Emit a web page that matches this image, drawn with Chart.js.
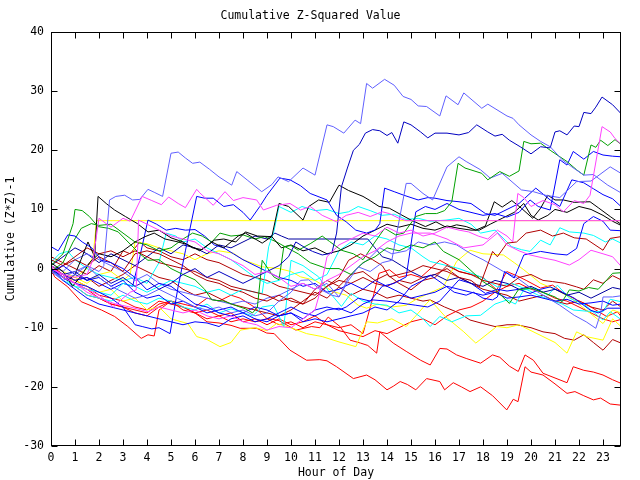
<!DOCTYPE html>
<html lang="en">
<head>
<meta charset="UTF-8">
<title>Cumulative Z-Squared Value</title>
<script src="https://cdn.jsdelivr.net/npm/chart.js"></script>
<style>
    body { margin: 0; background: #fff; }
    #chart { display: block; }
</style>
</head>
<body>
<canvas id="chart" width="640" height="480"></canvas>
<script>
// each series: [hour of day, cumulative (z*z)-1]
const hourRange = [0, 23.75];
const valueRange = [-30, 40];

const lightBlueTop = [[0,-0.5],[0.5,-1.5],[1,-0.5],[1.5,0.5],[2,-0.5],[2.2,0.5],[2.44,11.6],[2.7,12.2],[3.07,12.4],[3.4,11.6],[3.7,11.7],[4.04,13.4],[4.3,12.9],[4.65,12.2],[5,19.5],[5.3,19.7],[5.6,18.7],[5.9,17.8],[6.2,18],[6.6,16.8],[7,15.5],[7.53,14.1],[7.74,16.4],[8.2,14.9],[8.78,13],[9.2,14.2],[9.46,15.5],[9.9,14.7],[10.5,17],[11,15.8],[11.5,24.3],[11.76,24],[12.2,22.9],[12.67,25.1],[12.9,24.5],[13.15,31.3],[13.4,30.5],[13.9,32],[14.3,31],[14.67,29.1],[15,28.6],[15.3,27.5],[15.65,27.4],[16.2,25.8],[16.46,29.2],[16.96,27.7],[17.2,29.7],[17.95,27.1],[18.2,27.8],[19,25.8],[19.25,25.4],[19.5,24.3],[20,22.6],[20.4,21.5],[20.8,20.6],[21.3,18.4],[21.7,17.2],[22.2,15.8],[22.6,15.9],[23.2,14.1],[23.75,12.8]];
const lightBlueMid = [[0,-0.5],[0.5,-2],[1,-1],[1.5,0.5],[2,-1.5],[2.5,-3],[3,-4],[3.5,-5],[4,-4.5],[4.5,-3.5],[5,-4.5],[5.5,-5.5],[6,-6.5],[6.5,-7],[7,-6.5],[7.5,-7.5],[8,-7],[8.5,-8],[9,-7.5],[9.5,-5.5],[10,-4],[10.4,-2],[10.74,-1.9],[11.2,-3.5],[11.7,-4.5],[12,-4.8],[12.4,-2],[12.8,0.3],[13.3,-0.5],[13.8,1],[14.2,1.4],[14.5,8],[14.8,14.4],[15,14.4],[15.5,12.7],[15.9,11.6],[16.5,17.2],[17,18.9],[17.3,18.1],[17.9,16.7],[18.3,15.3],[18.8,16.1],[19.6,13.3],[20.1,13],[20.6,12.4],[21.2,12],[21.9,14.7],[22.5,14.8],[23.3,17.2],[23.75,16.1]];
const lightBlueLow = [[0,0.5],[0.5,-0.5],[1,1.5],[1.5,2.5],[2,1.5],[2.5,0.5],[3,-0.5],[3.5,-2],[4,-1],[4.5,-2.5],[5,-3.5],[5.5,-4],[6,-4.5],[6.5,-5],[7,-5.5],[7.5,-6],[8,-5.5],[8.5,-6],[9,-5],[9.5,-4.5],[10,-3.5],[10.5,-2.5],[11,-3.5],[11.5,-2.5],[12,-4.8],[12.4,-1.5],[12.8,0.3],[13.2,1.5],[13.7,3.5],[14.2,2.5],[14.8,3],[15.3,4.5],[15.8,4],[16.4,4.5],[16.9,4],[17.5,2.5],[18,1.5],[18.85,-0.5],[19.4,-1.5],[19.9,-3],[20.5,-4.5],[21.2,-6.2],[21.8,-7.9],[22.3,-9],[22.7,-10.1],[22.9,-7.6],[23,-4.8],[23.4,-4.8],[23.75,-4.6]];
const navyTop = [[0,0],[0.5,-1],[1,-0.5],[1.5,-2],[2,-1],[2.5,-2.5],[3,-1.5],[3.5,-3],[4,-2],[4.5,-3.5],[5,-2.5],[5.5,-1],[6,0],[6.5,-1.5],[7,-0.5],[7.5,-1.5],[8,-2.5],[8.5,-1.5],[9,-0.5],[9.5,0.5],[9.9,2],[10.2,4.5],[10.6,3.5],[10.9,2.9],[11.3,2.3],[11.7,2.6],[11.9,6],[12.1,13.8],[12.35,17],[12.6,20],[12.85,21],[13.1,22.9],[13.4,23.5],[13.7,23.3],[14,22.5],[14.2,23],[14.45,21.2],[14.7,24.8],[15,24.3],[15.4,23.1],[15.7,22.1],[16,22.9],[16.5,22.9],[17,22.6],[17.4,23],[17.74,24.3],[18.2,23.1],[18.5,22.4],[18.8,22.7],[19.1,21.7],[19.55,20.6],[20,19.4],[20.4,20.6],[20.8,20.4],[21,23.1],[21.2,23.3],[21.5,22.6],[21.8,24.1],[22,24],[22.2,26.4],[22.5,26.2],[22.7,27.3],[22.96,29],[23.4,27.7],[23.75,26.2]];
const navyFlat = [[0,0.5],[0.5,2],[1,3.5],[1.5,2.5],[2,1],[2.5,2.5],[3,1.5],[3.5,0.5],[4,2],[4.5,3.5],[5,2.5],[5.5,4],[6,3.5],[6.5,2.5],[7,4],[7.5,3.5],[8,4.5],[8.5,5.5],[9,5],[9.33,6],[9.6,5.5],[9.9,5],[13.2,5],[13.5,3.5],[13.8,2],[14.2,1.5],[14.6,0.5],[15,-0.5],[15.5,-1.5],[16,-1],[16.5,-2],[17,-1.5],[17.5,-2.5],[18,-3],[18.5,-2],[19,-2.5],[19.5,-3.5],[20,-3],[20.5,-4],[21,-3.5],[21.5,-4.5],[22,-4],[22.5,-5],[23,-4],[23.4,-3.2],[23.75,-3.5]];
const blueA = [[0,3.7],[0.3,3],[0.7,5.7],[1,5.5],[1.3,4.5],[1.7,3.5],[2.1,1.4],[2.5,1],[3,0],[3.5,-1.5],[4,-3.6],[4.5,-2.5],[5,-3],[5.5,-4.5],[6,-6],[6.5,-6.5],[7,-7.5],[7.5,-8],[8,-7.5],[8.5,-8.5],[9,-9],[9.5,-8],[10,-7.5],[10.5,-8.5],[11,-7],[11.5,-6.5],[12,-7],[12.3,-6.5],[12.8,-5],[13.3,-5.5],[13.8,-3],[14.3,-2.5],[14.8,-1.4],[15.2,9.6],[15.6,10.5],[16,10],[16.5,11],[17,10],[17.5,9.5],[18,9],[18.5,9.3],[19,8.7],[19.5,9.5],[19.96,11.6],[20.3,10.5],[20.8,9.9],[21.2,18.4],[21.5,17.5],[21.76,19.8],[22.2,18.5],[22.6,19.8],[23,19.2],[23.4,19],[23.75,18.9]];
const blueB = [[0,0],[0.5,-1.5],[1,-2.5],[1.5,-3],[2,-4],[2.5,-5],[3,-6.5],[3.5,-9.5],[3.8,-9.8],[4.2,-10.2],[4.5,-10],[4.96,-11],[5.3,-3],[5.6,3],[6.07,12.2],[6.4,11.9],[6.76,11.9],[7.2,10.5],[7.6,10.8],[8,9.5],[8.3,8.2],[8.7,10.5],[9,12.4],[9.54,15.3],[9.96,15],[10.4,14],[10.8,12.7],[11.5,11.6],[11.9,9],[12.3,7.9],[12.7,6.5],[13.15,6],[13.5,6.5],[13.7,7.6],[13.9,13.6],[14.3,13],[14.7,12.4],[15.3,11.6],[15.7,12],[16,11.9],[16.5,11.5],[17,11.3],[17.5,11],[18.1,9.3],[18.5,9],[19,10],[19.5,11],[20.2,13.6],[20.8,11.6],[21.2,10.5],[21.7,15],[22.2,14.5],[22.6,13.5],[23,12.5],[23.4,11.8],[23.75,10.5]];
const blueC = [[0,-0.5],[0.5,0.5],[1,-1],[1.5,-2],[2,-1.5],[2.5,-3],[3,-2],[3.5,-4],[4,-5],[4.5,-4.5],[5,-6],[5.5,-5.5],[6,-6.5],[6.5,-7.5],[7,-7],[7.5,-6.5],[8,-7.5],[8.5,-6.5],[9,-7],[9.5,-8],[10,-7.5],[10.5,-9],[11,-8.5],[11.5,-9],[12,-8.5],[12.5,-8],[13,-7.5],[13.5,-6.5],[14,-7],[14.5,-5.5],[15,-3],[15.5,-2],[15.8,-1.1],[16.3,-2.5],[16.8,-4],[17.3,-4.5],[17.6,-4],[18,-5],[18.4,-5.3],[18.6,-4.8],[18.9,-0.5],[19.3,-1.6],[19.7,2.3],[20.4,2.9],[21,2.5],[21.5,2.3],[21.9,3.4],[22.2,7.6],[22.6,8.8],[23,8],[23.3,6.5],[23.75,6.4]];
const blueD = [[0,0],[0.5,-2],[1,-3.5],[1.5,-5],[2,-6],[2.5,-6.5],[3,-7],[3.5,-7.5],[4,-8],[4.5,-8.5],[5,-9],[5.5,-9.5],[6,-9],[6.5,-9.2],[7,-9.8],[7.5,-8.5],[8,-8],[8.5,-9],[9,-8.5],[9.5,-7.5],[10,-6.5],[10.5,-7.5],[11,-8],[11.5,-7],[12,-6.7],[12.5,-7.5],[13,-6],[13.4,-5.3],[14,-5.5],[14.5,-5.8],[15.2,-6.2],[15.7,-6.5],[16.2,-5.5],[17,-1.9],[17.5,-2.5],[18.1,-4.2],[18.6,-3.5],[19,-3.8],[19.5,-3.5],[19.96,-4.2],[20.4,-3.5],[20.8,-3.1],[21.3,-4],[21.8,-5],[22.46,-7],[22.8,-7.5],[23.2,-6.7],[23.75,-6.7]];
const blueE = [[0,0],[0.5,-1],[1,-2],[1.5,-1.5],[2,-2.5],[2.5,-3.5],[3,-2.5],[3.4,-3],[3.7,2],[4.04,8.2],[4.4,7.5],[4.8,6.5],[5.2,6.8],[5.6,6.5],[6,6.6],[6.4,5.5],[6.8,4],[7.2,3.5],[7.6,2.5],[8,1.5],[8.5,0.5],[9,-0.5],[9.5,-1.5],[10,-2],[10.5,-3],[11,-2.5],[11.5,-4],[12,-3.5],[12.5,-2.5],[13,-3.5],[13.5,-2],[14,-3],[14.5,-4],[15,-5],[15.5,-4.5],[16,-4],[16.5,-3],[17,-3.5],[17.5,-4],[18,-4.5],[18.5,-4],[19,-5],[19.5,-4.8],[20,-4.5],[20.5,-5],[21,-5.5],[21.5,-5.2],[22,-6],[22.5,-5.8],[23,-5.5],[23.4,-6.2],[23.75,-6]];
const greenHigh = [[0,0.5],[0.5,2.5],[0.92,7.6],[1,10],[1.3,9.8],[1.6,8.8],[1.96,7.1],[2.4,6.8],[2.8,6.2],[3.33,4],[3.7,2.5],[4.04,1.4],[4.5,1.5],[5,0],[5.5,-1],[6,-1.9],[6.4,-3.5],[6.7,-5.3],[7.2,-5.5],[7.8,-6.4],[8.1,-6.8],[8.4,-7.5],[8.6,-6.5],[8.8,1.4],[9.28,-1.4],[9.5,-1.9],[9.7,3.7],[10,3.9],[10.3,3.1],[10.8,4.2],[11.3,5.5],[11.6,4.6],[12.1,3.1],[12.6,2.5],[13,1.5],[13.5,4.5],[13.9,6.8],[14.36,5.7],[14.7,6],[15.2,8.8],[15.6,9.3],[16.07,9.3],[16.4,9.8],[16.7,11.3],[16.96,17.8],[17.25,17],[17.95,16.1],[18.2,15],[18.7,16.4],[19.1,15.6],[19.5,16.5],[19.7,21.5],[20,21.1],[20.4,21.2],[20.8,20],[21.5,18.1],[21.9,16.7],[22.2,15.8],[22.5,20.9],[22.7,20.5],[22.9,21.7],[23.2,20.8],[23.5,21.8],[23.75,21]];
const greenLow = [[0,-0.5],[0.5,1],[0.92,4.5],[1.26,6.8],[1.68,7.6],[2,7.3],[2.5,7.5],[3,6],[3.5,4.5],[4,4],[4.5,3],[5,3.5],[5.5,5],[5.9,6],[6.3,5.5],[6.7,4.5],[7.04,6],[7.5,5.5],[8,5.7],[8.5,5],[8.9,5.4],[9.4,4.5],[9.75,3.7],[10.3,2.5],[10.8,1],[11.5,0],[12,0],[12.5,-1],[13,1],[13.5,2],[14,3.5],[14.5,3],[15,4],[15.5,3.5],[16,4.5],[16.35,2.9],[17,1.5],[17.46,-0.2],[18,-2.2],[18.5,-3.5],[19.1,-5.9],[19.47,-3.6],[20,-3.3],[20.4,-3.9],[21,-4.8],[21.3,-5.6],[21.6,-3.6],[22,-3.8],[22.4,-3.2],[22.8,-3.5],[23.1,-2.2],[23.4,-0.8],[23.75,-0.7]];
const blackA = [[0,0],[0.35,-1],[0.7,-2],[1,-1],[1.25,1.5],[1.54,4.5],[1.82,2],[1.96,12.2],[2.3,11],[2.65,9.9],[3.1,8.8],[3.6,7.6],[4.04,6.2],[4.5,6.5],[5,5.2],[5.5,4.5],[5.9,3.5],[6.3,3.2],[6.8,4.8],[7.2,5],[7.7,4.5],[8.1,6.2],[8.6,5.5],[9.2,5.4],[9.5,11],[9.9,10.5],[10.5,8.2],[10.74,10.5],[11.15,11.6],[11.6,11.2],[12,14.1],[12.4,13.2],[13,12.2],[13.25,11.6],[13.67,10.5],[14.1,10.2],[14.5,9.3],[15,8.2],[15.6,7.1],[16.04,7.9],[16.5,6.9],[16.9,7.4],[17.3,7.1],[17.7,6.5],[18.1,7.2],[18.47,11.3],[18.8,10.4],[19.2,11.5],[19.6,10.2],[20.07,8.5],[20.4,10.2],[20.7,12.4],[21,11.6],[21.35,11.6],[21.8,11.2],[22.46,11.3],[22.8,10.3],[23.3,8.8],[23.75,7.5]];
const blackB = [[0,1],[0.5,-0.5],[0.9,-3],[1.3,-1],[1.6,1],[2,2.5],[2.5,2],[3,3],[3.5,4.5],[3.92,5.4],[4.3,6],[4.75,5],[5.3,4.5],[5.72,4],[6.2,3],[6.7,4.5],[7.2,3.5],[7.8,5.5],[8.1,6],[8.8,4.3],[9.2,5.4],[9.6,3.5],[10,4],[10.5,3],[11,3.5],[11.5,2.5],[12,3],[12.5,4],[13,5.5],[13.5,6.5],[14,7.5],[14.5,7],[15,7.5],[15.5,6.8],[16,6.5],[16.5,7.2],[17,6.8],[17.5,6.5],[17.85,6.5],[18.3,7.5],[18.8,8.5],[19.3,9.5],[19.7,11],[20,9],[20.3,8.2],[20.7,9],[21,10],[21.5,9.5],[22,10.5],[22.5,10],[23,9],[23.4,8],[23.75,7.3]];
const magentaFlat = [[0,0],[0.5,-1],[1,-1.5],[1.5,-1],[1.75,1.5],[2,8.5],[2.5,7],[3,8.5],[3.3,8],[3.8,12.2],[4.2,11.5],[4.6,10.8],[4.9,12.1],[5.3,11],[5.6,10.3],[6.07,13.4],[6.2,12.8],[6.76,10.7],[7.25,13],[7.6,11.5],[8,12],[8.57,11.6],[8.85,9.9],[9.4,10.7],[9.96,11],[10.4,9.9],[10.8,10.5],[11.3,9],[11.9,7.9],[12.3,9],[12.8,9.5],[13.3,8.8],[13.8,9.6],[14.1,9.3],[14.5,8.5],[14.8,8.1],[23.75,8.1]];
const magentaRise = [[0,0],[0.5,-1],[1,-2.5],[1.5,-4],[2.2,-5.3],[2.7,-6],[3.3,-6.5],[4.04,-7.3],[4.5,-6.5],[5,-7],[5.5,-7.5],[6,-7],[6.5,-8],[7,-8.5],[7.5,-8],[8,-9],[8.57,-9.5],[9,-10.4],[9.5,-9.8],[10,-10],[10.5,-8.5],[11,-7],[11.15,-4.8],[11.5,2],[12,4],[12.5,5],[13,6],[13.5,5.5],[14,7],[14.5,6],[15,6.5],[15.5,5.5],[16,6],[16.5,7],[17,6.5],[17.4,6.2],[17.8,5.5],[18.2,5],[18.6,6.5],[19,5.5],[19.24,4.5],[19.45,12.7],[19.7,12],[20,10.5],[20.5,11.5],[21,10.8],[21.35,9.6],[21.8,11.5],[22.2,11],[22.46,12.4],[22.96,24],[23.3,23.1],[23.5,22],[23.75,21]];
const magentaLow = [[0,0.5],[0.5,-1.5],[1,-2.5],[1.5,-3.5],[2,-4.5],[2.6,-6.5],[3,-5],[3.3,-4],[3.55,-3.6],[3.65,8.2],[4,7.5],[4.5,6.5],[5,5.5],[5.5,5],[6,4.5],[6.5,3],[7,2.5],[7.5,1.5],[8,0.5],[8.5,-1],[9,-0.5],[9.5,-1.5],[10,-3],[10.5,-2.5],[11,-3.5],[11.5,-2],[12,-1],[12.5,0.5],[13,2],[13.5,3],[14,4.5],[14.5,5.5],[15,6],[15.8,6],[16.5,5],[17.2,3.5],[18,4],[18.6,6],[19,4],[19.5,3],[19.96,2.3],[20.5,1.8],[21,1.4],[21.6,0.6],[22,1.5],[22.5,3.1],[23,2.5],[23.4,2],[23.75,0.4]];
const yellowFlat = [[0,0.5],[0.5,-0.5],[1,-1.5],[1.5,0],[1.75,2],[1.9,8.1],[23.75,8.1]];
const yellowMid = [[0,0],[0.5,-1],[1,-1.5],[1.5,-2.5],[2,-1],[2.5,-0.5],[3,-2],[3.3,-1],[3.5,4.5],[4,4.2],[4.5,3.5],[5,3],[5.5,2.5],[6,1.5],[6.5,2.5],[7,3],[7.6,2.6],[8,1.5],[8.8,0.3],[9.5,0],[10,-0.5],[10.4,-1.4],[11,-2],[11.76,-3.9],[12.3,-4.5],[12.8,-6.2],[13.15,-6.7],[13.6,-6],[14.2,-6.5],[14.8,-6.2],[15.3,-5],[15.75,-4.2],[16.35,-3.1],[16.9,1.2],[17.46,3.1],[18,2.5],[18.85,2.3],[19.3,1],[19.7,-0.2],[20.4,-2.5],[21,-3.5],[21.6,-4.8],[22.3,-7],[23,-9.3],[23.4,-7],[23.75,-7.5]];
const yellowLow = [[0,0],[0.5,-1.5],[1,-2],[1.5,-3],[2,-4],[2.5,-3.5],[3,-5.5],[3.5,-5],[4,-7],[4.5,-6.5],[5,-8.5],[5.7,-9.3],[6.07,-11.5],[6.5,-12],[7.04,-13.2],[7.5,-12.5],[7.9,-10.4],[8.5,-10],[9,-10.5],[9.4,-9.3],[10,-10],[10.65,-11],[11.3,-11.5],[12,-12.4],[12.7,-13.2],[13.15,-9],[13.6,-9.2],[14.2,-8.5],[14.8,-9.8],[15.2,-8],[15.65,-5.9],[15.8,-5.3],[16.4,-8],[17.2,-10.7],[17.7,-12.6],[18.2,-11],[18.57,-9.8],[19,-10],[19.5,-9.5],[20,-10.5],[20.5,-11.5],[21,-12.5],[21.5,-14.3],[21.9,-10.7],[22.3,-11.5],[23,-12.1],[23.4,-8.5],[23.75,-9.8]];
const cyanHigh = [[0,0],[0.5,-1.5],[1,-3],[1.5,-3.5],[2,-4],[2.5,-4.5],[3,-2.5],[3.5,-3],[4,-4],[4.5,-3],[5,-2],[5.5,-2.5],[6,-3],[6.5,-4],[7,-3.5],[7.5,-4.5],[8,-3.5],[8.5,-4],[8.8,-4.2],[9.07,3.7],[9.3,6.5],[9.5,10.5],[10,9.5],[10.46,10.5],[11,9.8],[11.5,10],[12,9.3],[12.4,9.6],[12.8,10.5],[13.3,9.8],[13.8,9],[14.3,9.2],[14.8,8.3],[15.3,8.5],[15.8,8],[16.46,8.2],[17,8.5],[17.5,7.5],[17.9,6],[18.5,6.5],[19.2,3.7],[19.6,3.2],[19.96,2.9],[20.4,4.8],[20.8,4],[21.2,6.9],[21.6,6.2],[22.2,6],[22.6,5.6],[23.1,4.5],[23.4,5],[23.75,4.3]];
const cyanLow = [[0,0],[0.5,-2],[1,-3],[1.5,-4.5],[2,-5],[2.5,-5.5],[3,-4.5],[3.5,-5.5],[4,-6],[4.5,-5],[5,-5.5],[5.5,-6.5],[6,-7],[6.5,-6],[7,-7.5],[7.5,-6.8],[7.9,-7.3],[8.4,-8],[8.8,-6.5],[9.26,-6.2],[9.5,-8],[9.7,-9.8],[10,1.4],[10.5,0.5],[11.15,-1.4],[11.6,-4],[12.1,-6.4],[12.5,-4.2],[13,-5.5],[13.5,-6],[14,-6.2],[14.5,-7.5],[15,-7],[15.5,-8.5],[15.8,-9.8],[16.2,-8.1],[16.7,-9],[17.3,-8],[17.9,-7.9],[18.5,-6],[19,-5.3],[19.35,-6],[19.7,-3.6],[20.2,-3.3],[20.7,-4.5],[21.1,-2.8],[21.6,-5],[22.2,-6],[23,-8.7],[23.3,-7.3],[23.75,-8.6]];
const cyanMid = [[0,1],[0.35,2.5],[0.7,2.9],[1,1.5],[1.5,0],[2,-1],[2.5,-1.5],[3,-2],[3.5,-1.5],[4,-2.5],[4.5,1],[4.8,6],[5.2,5.5],[5.5,4.5],[6,5],[6.5,3.5],[7,2.5],[7.5,1.5],[8,0],[8.5,-1.5],[9,-2.5],[9.5,-2],[10,-1],[10.5,-0.5],[11,-2],[11.5,-1],[12,3],[12.5,4.5],[13,4],[13.5,5.5],[14,5],[14.5,4],[15,3.5],[15.5,2],[15.8,1.2],[16.5,0.5],[17,0],[17.9,-1.4],[18.6,-3.1],[19.2,-2.5],[19.8,-3.5],[20.3,-4.5],[20.8,-5.3],[21.3,-6],[21.76,-7],[22.3,-7.2],[23,-7.3],[23.3,-5.2],[23.75,-5.6]];
const darkRedA = [[0,1.5],[0.5,0.5],[1,2],[1.5,3.5],[2,2.5],[2.5,3],[3,2],[3.5,3],[4,2],[4.5,1],[5,0.5],[5.5,0],[6,-0.5],[6.5,-1.5],[7,-2],[7.5,-3],[8,-3.5],[8.5,-4],[9,-4.5],[9.5,-5.5],[10,-5],[10.5,-6],[11,-5],[11.5,-3],[12,-1.5],[12.4,1.4],[12.9,2.5],[13.4,1.5],[13.8,0.5],[14.1,-1.4],[14.5,-1],[15,-0.5],[15.5,0.5],[16,0],[16.5,-0.5],[17,-1.5],[17.5,-2],[17.85,-3.1],[18.4,2.9],[18.6,2],[19,4.3],[19.4,4.5],[19.8,6],[20.4,6.5],[20.9,5.5],[21.35,6],[21.8,5.2],[22.3,5],[23,3.1],[23.3,5.1],[23.75,5.4]];
const darkRedB = [[0,-1],[0.5,0.5],[1,1.5],[1.5,0.5],[2,2],[2.5,1],[3,-0.5],[3.5,2.5],[4,3],[4.5,2.5],[5,1.5],[5.5,0.5],[6,-1],[6.5,-2],[7,-2.5],[7.5,-3.5],[8,-4],[8.5,-5],[9,-5.5],[9.5,-4.5],[10,-5.5],[10.5,-6],[11,-3.5],[11.5,-2],[12,-3],[12.5,-1],[13,-0.5],[13.5,-2],[14,-1],[14.5,-2.5],[15,-3.6],[15.5,-2],[16,-1.5],[16.5,0.5],[17,-0.5],[17.5,-1],[18,-2],[18.5,-2.5],[19,-3],[19.5,-1.5],[20,-1],[20.5,-2],[20.9,-2.2],[21.4,-2.5],[21.9,-3.1],[22.2,-3.5],[22.6,-1.9],[23,-2.5],[23.4,-1.2],[23.75,-1.9]];
const darkRedC = [[0,0],[0.5,-1],[1,-2],[1.5,-1.5],[2,-3],[2.5,-2],[3,-1],[3.5,0.5],[4,-0.5],[4.5,-1.5],[5,-2],[5.5,-3.5],[6,-4.5],[6.5,-4],[7,-5],[7.5,-6],[8,-6.5],[8.5,-7],[9,-7.5],[9.5,-8],[10,-7],[10.5,-5.5],[11,-4],[11.5,-5],[12,-3.1],[12.5,-4.5],[13,-3.5],[13.5,-4],[14,-5],[14.5,-4.5],[15,-5],[15.5,-5.5],[15.8,-5.3],[16.4,-6.5],[17,-7.5],[17.46,-8.7],[18,-9.3],[18.5,-9.8],[19,-9.5],[19.4,-9.5],[20,-10],[20.5,-10.7],[21,-11],[21.4,-11.8],[21.8,-12.1],[22.2,-11.2],[22.6,-12.5],[23,-13.8],[23.4,-12],[23.75,-12.6]];
const darkRedD = [[0,2],[0.5,1],[1,0],[1.5,-1],[2,0.5],[2.5,-0.5],[3,3],[3.3,2.5],[3.7,4.5],[4,3.5],[4.5,3],[5,2],[5.5,1.5],[6,2.5],[6.5,1.5],[7,1],[7.5,0],[8,-1],[8.5,-1.5],[9,-2],[9.5,-3],[10,-3.5],[10.5,-4],[11,-4.5],[11.5,-3],[12,-2],[12.5,-2.5],[13,-1.5],[13.5,-2.5],[14,-3],[14.5,-2],[15,-2.5],[15.5,-1.5],[16,-1],[16.5,0],[17,-1.5],[17.5,-2.5],[18,-3.5],[18.5,-4],[19,-4.5],[19.5,-5.5],[20,-5],[20.5,-4.5],[21,-5.5],[21.5,-6],[22,-5.5],[22.5,-6.5],[23,-7],[23.4,-5.5],[23.75,-6.5]];
const redBottom = [[0,0],[0.15,-1.4],[0.7,-3.1],[1.26,-5.6],[2.1,-7],[2.65,-8.1],[3.2,-9.8],[3.76,-11.8],[4.04,-11.2],[4.3,-11.4],[4.5,-7],[5,-5.5],[5.5,-6.5],[6,-7.5],[6.5,-9],[7,-9.2],[7.5,-9.6],[7.88,-10.1],[8.57,-10.1],[8.99,-10.9],[9.3,-11],[9.96,-13.8],[10.65,-15.5],[11.2,-15.4],[11.5,-15.6],[11.9,-16.6],[12.6,-18.6],[13.15,-18],[13.5,-18.8],[14,-20.5],[14.26,-19.9],[14.55,-19.1],[14.85,-19.6],[15.2,-20.5],[15.65,-18.6],[16.2,-19.1],[16.4,-20.5],[16.76,-19.3],[17.1,-20],[17.46,-20.8],[17.9,-20],[18.4,-21.5],[18.99,-23.9],[19.26,-22.1],[19.46,-22.5],[19.75,-16.6],[20,-17.5],[20.5,-18],[21,-19.5],[21.5,-21.1],[21.83,-20.8],[22.2,-21.5],[22.6,-22.2],[22.9,-21.9],[23.3,-22.9],[23.75,-23.1]];
const redSecond = [[0,0.5],[0.5,-1],[1,-2.5],[1.5,-3.5],[2,-5],[2.5,-6],[3,-6.5],[3.5,-7.5],[4,-8],[4.5,-6.5],[5,-5.5],[5.5,-6],[6,-6.5],[6.5,-5],[7,-5.5],[7.5,-4.5],[7.88,-5],[8.43,-6.4],[8.99,-8.4],[9.5,-8.8],[10.2,-10.4],[10.86,-9.8],[11.2,-10],[11.55,-8.2],[12.04,-9.8],[12.46,-12.1],[12.9,-12.6],[13.2,-13],[13.57,-14.3],[13.7,-10.7],[14.26,-12.6],[14.8,-14],[15.4,-15.5],[15.8,-16.3],[16.2,-13.5],[16.5,-13.6],[16.9,-14.6],[17.3,-15.2],[17.9,-16],[18.4,-14.6],[18.7,-15],[19.1,-16.5],[19.47,-17.4],[19.75,-14.6],[20.1,-15.5],[20.5,-17.7],[21,-18.5],[21.5,-19.3],[21.76,-16.6],[22.2,-17.2],[22.6,-17.5],[23,-18],[23.4,-18.8],[23.75,-19.4]];
const redMid = [[0,0],[0.5,-1.5],[1,-3],[1.5,-4.5],[2,-5],[2.5,-6],[3,-6.5],[3.5,-7],[4,-7.5],[4.5,-6],[5,-5.5],[5.5,-7],[6,-7.5],[6.5,-8.5],[7,-8],[7.5,-9],[8,-8.5],[8.5,-9],[9,-8.5],[9.5,-9.5],[10,-9],[10.5,-10],[11,-9],[11.5,-9.5],[12,-10],[12.5,-9.5],[13,-11],[13.46,-4.2],[13.67,-0.8],[14.1,-0.2],[14.5,-1.5],[15,-1],[15.4,-1.5],[16.2,1.4],[16.6,0.5],[17,-0.5],[17.5,-1],[18,-1.5],[18.57,-3.6],[18.99,-0.5],[19.4,-1.2],[19.8,-2],[20.4,-3.3],[20.9,-2.8],[21.3,-4],[21.9,-5.3],[22.3,-6],[22.7,-7],[23.15,-8.1],[23.6,-7.3],[23.75,-8.1]];
const redFourth = [[0,0.5],[0.5,-1],[1,-2],[1.5,-3],[2,-4.5],[2.5,-5],[3,-5.5],[3.5,-6.5],[4,-7],[4.5,-5.5],[5,-6],[5.5,-6.5],[6,-7.5],[6.5,-7],[7,-8],[7.5,-7.5],[8,-9],[8.5,-8.5],[9,-9.5],[9.5,-8.5],[10,-9.5],[10.5,-9],[11,-8],[11.5,-9.5],[12,-10.5],[12.5,-11],[13,-11.5],[13.5,-10.5],[14,-11],[14.5,-10],[15,-9],[15.5,-8.5],[16,-9.5],[16.5,-8],[17,-7],[17.5,-6.5],[18,-5.5],[18.5,-4],[19,-3],[19.5,-2.5],[20,-3.5],[20.5,-4],[21,-5],[21.5,-5.5],[22,-6.5],[22.5,-7.5],[23,-8.5],[23.4,-9],[23.75,-8.6]];

const series = [
    { data: magentaFlat, color: '#ff40ff' },
    { data: magentaRise, color: '#ff40ff' },
    { data: magentaLow, color: '#ff40ff' },
    { data: lightBlueTop, color: '#6060ff' },
    { data: navyTop, color: '#0000c0' },
    { data: greenHigh, color: '#00a000' },
    { data: blueA, color: '#0000ff' },
    { data: lightBlueMid, color: '#6060ff' },
    { data: blueB, color: '#0000ff' },
    { data: blackA, color: '#000000' },
    { data: blackB, color: '#000000' },
    { data: blueC, color: '#0000ff' },
    { data: darkRedA, color: '#b00000' },
    { data: cyanHigh, color: '#00ffff' },
    { data: greenLow, color: '#00a000' },
    { data: darkRedB, color: '#b00000' },
    { data: lightBlueLow, color: '#6060ff' },
    { data: navyFlat, color: '#0000a0' },
    { data: blueD, color: '#0000ff' },
    { data: blueE, color: '#0000ff' },
    { data: cyanMid, color: '#00ffff' },
    { data: cyanLow, color: '#00ffff' },
    { data: yellowMid, color: '#ffff00' },
    { data: yellowLow, color: '#ffff00' },
    { data: redMid, color: '#ff0000' },
    { data: redFourth, color: '#ff0000' },
    { data: darkRedC, color: '#b00000' },
    { data: darkRedD, color: '#b00000' },
    { data: redSecond, color: '#ff0000' },
    { data: redBottom, color: '#ff0000' },
    { data: yellowFlat, color: '#ffff00' }
];

// frame round the plot with inward tick marks on all four sides
const frameTicks = {
    id: 'frameTicks',
    afterDraw(chart) {
        const { ctx, chartArea: a, scales } = chart;
        const L = Math.round(a.left) + 0.5, R = Math.round(a.right) - 0.5;
        const T = Math.round(a.top) + 0.5, B = Math.round(a.bottom) - 0.5;
        ctx.save();
        ctx.strokeStyle = '#000';
        ctx.lineWidth = 1;
        ctx.beginPath();
        scales.x.ticks.forEach(t => {
            const px = Math.round(scales.x.getPixelForValue(t.value)) + 0.5;
            ctx.moveTo(px, B); ctx.lineTo(px, B - 6);
            ctx.moveTo(px, T); ctx.lineTo(px, T + 6);
        });
        scales.y.ticks.forEach(t => {
            const py = Math.round(scales.y.getPixelForValue(t.value)) + 0.5;
            ctx.moveTo(L, py); ctx.lineTo(L + 6, py);
            ctx.moveTo(R, py); ctx.lineTo(R - 6, py);
        });
        ctx.stroke();
        ctx.strokeRect(L, T, R - L, B - T);
        ctx.restore();
    }
};

Chart.defaults.font.family = "'DejaVu Sans Mono', monospace";
Chart.defaults.font.size = 11.5;
Chart.defaults.color = '#000';

new Chart(document.getElementById('chart'), {
    type: 'line',
    data: {
        datasets: series.map(s => ({
            data: s.data,
            borderColor: s.color,
            borderWidth: 1,
            pointRadius: 0,
            tension: 0,
            fill: false
        }))
    },
    options: {
        responsive: false,
        animation: false,
        layout: { padding: { top: 0, right: 19, bottom: 0, left: 0 } },
        plugins: {
            legend: { display: false },
            tooltip: { enabled: false },
            title: {
                display: true,
                text: 'Cumulative Z-Squared Value',
                font: { size: 11.5, weight: 'normal' },
                color: '#000',
                padding: { top: 9, bottom: 9.2 }
            }
        },
        scales: {
            x: {
                type: 'linear',
                min: hourRange[0],
                max: hourRange[1],
                grid: { display: false, drawTicks: false },
                border: { display: false },
                ticks: { stepSize: 1, includeBounds: false, autoSkip: false, maxRotation: 0, padding: 5 },
                title: { display: true, text: 'Hour of Day', padding: { top: 0, bottom: 0 } },
                afterFit: scale => { scale.height = 34; }
            },
            y: {
                min: valueRange[0],
                max: valueRange[1],
                grid: { display: false, drawTicks: false },
                border: { display: false },
                ticks: { stepSize: 10, padding: 7 },
                title: { display: true, text: 'Cumulative (Z*Z)-1', padding: { top: 4, bottom: 0 } },
                afterFit: scale => { scale.width = 51; }
            }
        }
    },
    plugins: [frameTicks]
});
</script>
</body>
</html>
